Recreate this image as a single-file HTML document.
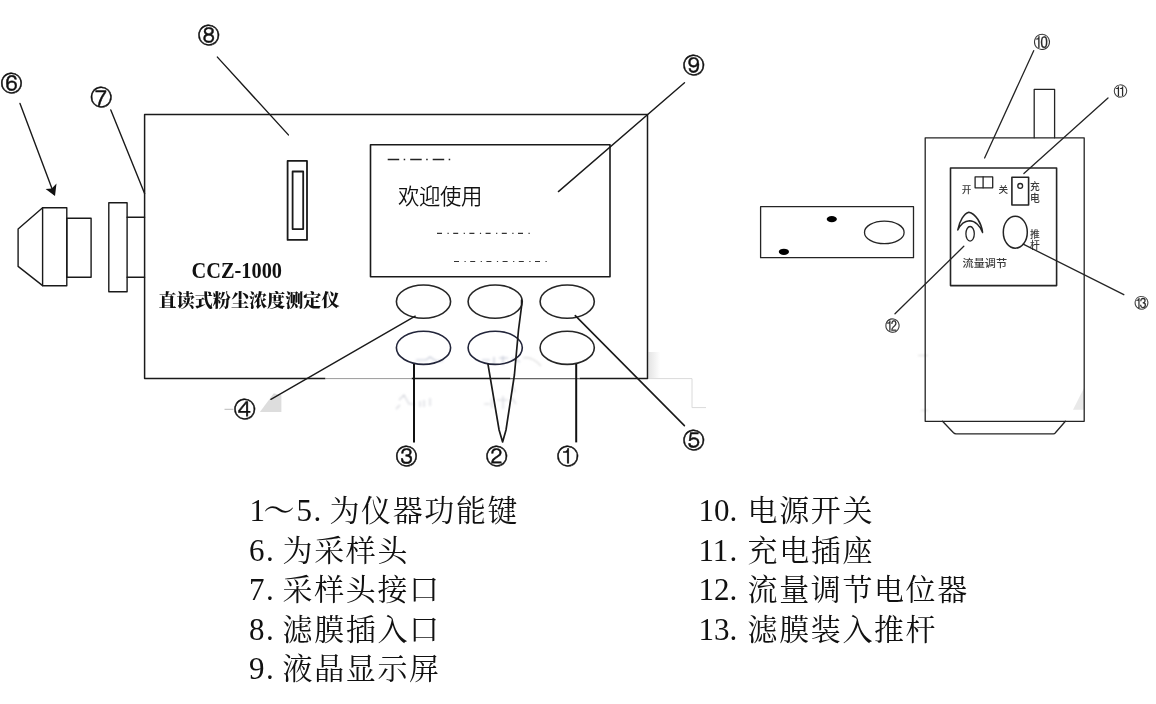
<!DOCTYPE html>
<html lang="zh-CN">
<head>
<meta charset="utf-8">
<title>CCZ-1000 直读式粉尘浓度测定仪</title>
<style>
html,body{margin:0;padding:0;background:#fff;}
body{width:1156px;height:704px;overflow:hidden;position:relative;}
svg{position:absolute;left:0;top:0;display:block;filter:blur(0.4px);}
.ln{stroke:#1a1a1a;stroke-width:1.4;fill:none;stroke-linecap:round;stroke-linejoin:round;}
#right-device .ln,#right-leaders .ln,#slide .ln{stroke-width:1.3;stroke:#242424;}
.key{stroke-width:1.6;stroke:#262626;}
.thin{stroke:#222;stroke-width:1.1;fill:none;}
.thick{stroke:#111;stroke-width:2;fill:none;}
.leg{font-family:"Liberation Serif","Noto Serif CJK SC",serif;font-size:31px;fill:#111;}
.zh{font-size:30px;letter-spacing:1.6px;}
.cir{font-family:"WenQuanYi Zen Hei","Noto Sans CJK SC",sans-serif;fill:#111;stroke:#111;stroke-width:0.45px;}
.cn{font-family:"Liberation Sans","Noto Sans CJK SC",sans-serif;fill:#111;}
.num{font-family:"Liberation Sans","Noto Sans CJK SC",sans-serif;font-size:11px;fill:#111;text-anchor:middle;}
</style>
</head>
<body>
<svg width="1156" height="704" viewBox="0 0 1156 704">
<rect x="0" y="0" width="1156" height="704" fill="#fff"/>

<!-- faint scan artefacts -->
<defs>
<filter id="soft" x="-20%" y="-20%" width="140%" height="140%"><feGaussianBlur stdDeviation="0.9"/></filter>
<linearGradient id="smudge" x1="0" y1="0" x2="1" y2="0"><stop offset="0" stop-color="#e4e4e4"/><stop offset="1" stop-color="#ffffff"/></linearGradient>
</defs>
<g id="artefacts">
<rect x="648.5" y="352" width="12" height="26" fill="url(#smudge)"/>
<path d="M648 378.6H692V407.6H706" stroke="#dadada" stroke-width="1" fill="none"/>
<polygon points="259.900,411.900 281.400,411.900 281.400,395.200 273.800,393.300" fill="#dddddd"/>
<path d="M224.500 409.300H233.500" stroke="#bbb" stroke-width="1"/>
<g filter="url(#soft)" stroke="#d4d6dc" stroke-width="1.2" fill="none">
<path d="M399 400L404 395L409 404H415M420 401V407M424 400V407M430 398V406M396 409L400 405"/>
<path d="M484 404H490M492 398V408M497 400H508M503 396V409M512 386L515 392M512 398L516 404"/>
<path d="M416 360H426L430 357L436 361H443" stroke="#c4c8d6"/>
<path d="M482 360H490M494 357V364M499 358H508M503 356V365M512 358L520 362" stroke="#c4c8d6"/>
<path d="M523 358Q532 356 541 366" stroke="#dcdcdc"/>
<path d="M918 355.500H928M921 410.400H928" stroke="#dcdcdc" stroke-width="1"/>
</g>
</g>

<!-- LEFT DEVICE -->
<g id="left-device">
<!-- sampling head 6 -->
<path class="ln" d="M42.6 207.8L18.1 229V266.4L42.6 285.6"/>
<rect class="ln" x="42.6" y="207.7" width="24.2" height="78"/>
<rect class="ln" x="66.8" y="218.2" width="24.3" height="59"/>
<!-- connector 7 -->
<rect class="ln" x="108.8" y="202.8" width="18.3" height="88.900"/>
<path class="ln" d="M127.1 217.3H144.6M127.1 277.2H144.6"/>
<!-- main body -->
<path class="ln" d="M325 378.6H144.6V114.5H647.5V378.6H580M412 378.6H510" style="stroke-width:1.5"/>
<path d="M325 378.6H412" stroke="#9a9a9a" stroke-width="1" fill="none"/><path d="M510 378.6H580" stroke="#666" stroke-width="1.2" fill="none"/>
<!-- filter slot 8 -->
<rect class="ln" x="287.6" y="160.9" width="19.4" height="79" style="stroke-width:1.8"/>
<rect class="ln" x="292.6" y="171.5" width="10.6" height="57.6" style="stroke-width:1.8"/>
<!-- LCD 9 -->
<rect class="ln" x="370.5" y="144.8" width="239.5" height="131.9" style="stroke-width:1.6"/>
<path d="M387.7 159.5H452" stroke="#222" stroke-width="1.5" stroke-dasharray="11.5 4.5 1.5 5"/>
<path d="M437 233.4H532" stroke="#333" stroke-width="1.2" stroke-dasharray="5 5.5 1.2 4.5"/>
<path d="M454 261.5H549" stroke="#333" stroke-width="1.2" stroke-dasharray="5 5.5 1.2 4.5"/>
<text class="cn" x="398" y="203.8" font-size="21.4" font-weight="350" fill="#111" textLength="84.5">欢迎使用</text>
<!-- labels -->
<text x="191.5" y="277.7" font-family="'Liberation Serif',serif" font-weight="bold" font-size="23.4" fill="#111" textLength="90.5" lengthAdjust="spacingAndGlyphs">CCZ-1000</text>
<text x="158.5" y="306.5" font-family="'Liberation Serif','Noto Serif CJK SC',serif" font-weight="900" font-size="18.1" fill="#111" textLength="181" lengthAdjust="spacingAndGlyphs">直读式粉尘浓度测定仪</text>
<!-- keys -->
<ellipse class="ln key" cx="423.5" cy="301.6" rx="27.1" ry="16.6"/>
<ellipse class="ln key" cx="495.2" cy="301.6" rx="27.1" ry="16.6"/>
<ellipse class="ln key" cx="567.2" cy="301.6" rx="27.1" ry="16.6"/>
<ellipse class="ln key" cx="423.5" cy="347.8" rx="27.1" ry="16.6" style="stroke:#22253a"/>
<ellipse class="ln key" cx="495.2" cy="347.8" rx="27.1" ry="16.6" style="stroke:#22253a"/>
<ellipse class="ln key" cx="567.2" cy="347.8" rx="27.1" ry="16.6"/>
</g>

<!-- LEFT leaders -->
<g id="left-leaders">
<path class="ln" d="M20 103.5L54 194"/>
<polygon points="55,196 45.600,189 51.800,188.600 56.500,183.600" fill="#111"/>
<path class="ln" d="M110.8 110L144.6 193.5"/>
<path class="ln" d="M217.4 57.1L288.4 134.9"/>
<path class="ln" d="M684.5 82.7L558.4 191.6"/>
<path class="ln" d="M270.9 399.3L415.2 316.2"/>
<path class="thick" d="M414 364V442.4"/>
<path class="thick" d="M576.2 364V442.4"/>
<path class="ln" d="M521.6 300V306L518.5 330L514.4 375L506 430L502.6 442L499.1 430L488 364.4" style="stroke-width:1.7"/>
<path class="ln" d="M575.3 315.6L684.4 425.6" style="stroke-width:1.6"/>
</g>

<!-- circled numbers left -->
<g id="left-nums" class="cir" font-size="22" text-anchor="middle">
<text x="11.4" y="90.7">⑥</text>
<text x="101.2" y="105.1">⑦</text>
<text x="208.8" y="43.4">⑧</text>
<text x="693.7" y="73.3">⑨</text>
<text x="244.8" y="417.1">④</text>
<text x="406.5" y="463.6">③</text>
<text x="496.8" y="463.6">②</text>
<text x="567.8" y="463.6">①</text>
<text x="693.8" y="448.3">⑤</text>
</g>

<!-- FILTER SLIDE -->
<g id="slide">
<rect class="ln" x="760.6" y="206.7" width="152.9" height="51"/>
<ellipse cx="831.8" cy="219.1" rx="5.1" ry="3.1" fill="#000"/>
<ellipse cx="783.9" cy="251.8" rx="5.1" ry="3.1" fill="#000"/>
<ellipse class="ln" cx="884.3" cy="232.4" rx="19.8" ry="11.3"/>
</g>

<!-- RIGHT DEVICE -->
<g id="right-device">
<polygon points="1084,388 1084,409.700 1073,409.700" fill="#e9e9e9"/>
<path class="ln" d="M1034.2 137.8V89.4H1054.6V137.8"/>
<rect class="ln" x="925.2" y="137.8" width="159" height="283.5"/>
<path class="ln" d="M942.5 421.3L953.5 432.8Q954.5 433.8 956 433.8H1053.4Q1054.6 433.8 1055.4 432.8L1065.4 421.3"/>
<rect class="ln" x="950.5" y="168" width="106.1" height="117.6" style="stroke-width:1.6"/>
<rect class="ln" x="975.1" y="176.9" width="17.6" height="10.9"/>
<path class="ln" d="M983.1 176.9V187.8"/>
<rect class="ln" x="1011.9" y="177.3" width="16.7" height="27.7" style="stroke-width:1.6"/>
<circle class="ln" cx="1020.2" cy="185.9" r="2.4"/>
<ellipse class="ln" cx="1015.3" cy="232.2" rx="12" ry="16" style="stroke-width:1.5"/>
<ellipse class="ln" cx="970.1" cy="233.8" rx="4.2" ry="7.3"/>
<path class="ln" d="M957.8 230C959.5 221 964 213.500 968.8 212.2C975.500 213.500 981.500 223 982.6 232.500C980.500 226 975 220.800 969.500 220.800C964 221 960 225.500 957.800 230Z" style="stroke-width:1.5"/>
<g class="cn" font-weight="500" style="fill:#3a3a3a">
<text x="961.8" y="192.9" font-size="9.6">开</text>
<text x="998.4" y="193.1" font-size="9.6">关</text>
<text x="1030" y="189.8" font-size="9.8">充</text>
<text x="1030" y="201.6" font-size="9.8">电</text>
<text x="1030" y="238.2" font-size="9.8">推</text>
<text x="1030" y="249.4" font-size="9.8">杆</text>
<text x="962.6" y="266.5" font-size="10" textLength="44.5" lengthAdjust="spacingAndGlyphs">流量调节</text>
</g>
</g>

<!-- RIGHT leaders -->
<g id="right-leaders">
<path class="ln" d="M1033.7 50.7L984.6 158"/>
<path class="ln" d="M1108 98L1023.9 173.5"/>
<path class="ln" d="M1023.2 244.1L1123.8 294.7"/>
<path class="ln" d="M963.8 246.3L895 313.8"/>
</g>
<g id="right-nums" class="cir" text-anchor="middle" style="stroke-width:0.12px;fill:#2a2a2a;stroke:#2a2a2a">
<text x="1042.1" y="47.6" font-size="17">⑩</text>
<text x="1120.5" y="96.2" font-size="14">⑪</text>
<text x="1141.6" y="307.6" font-size="14.5">⑬</text>
<text x="892.6" y="330.9" font-size="15">⑫</text>
</g>

<!-- LEGEND -->
<g id="legend" class="leg">
<text y="521"><tspan x="249.5">1</tspan><tspan x="263.5">～</tspan><tspan x="296.5">5</tspan><tspan x="313.5">.</tspan><tspan class="zh" x="282.6" dx="46.9">为仪器功能键</tspan></text>
<text y="560.6"><tspan x="249">6</tspan><tspan x="266">.</tspan><tspan class="zh" x="282.6">为采样头</tspan></text>
<text y="600.2"><tspan x="249">7</tspan><tspan x="266">.</tspan><tspan class="zh" x="282.6">采样头接口</tspan></text>
<text y="639.8"><tspan x="249">8</tspan><tspan x="266">.</tspan><tspan class="zh" x="282.6">滤膜插入口</tspan></text>
<text y="679.4"><tspan x="249">9</tspan><tspan x="266">.</tspan><tspan class="zh" x="282.6">液晶显示屏</tspan></text>
<text y="521"><tspan x="698.5">10</tspan><tspan x="729.4">.</tspan><tspan class="zh" x="747.6">电源开关</tspan></text>
<text y="560.6"><tspan x="698.5">11</tspan><tspan x="729.4">.</tspan><tspan class="zh" x="747.6">充电插座</tspan></text>
<text y="600.2"><tspan x="698.5">12</tspan><tspan x="729.4">.</tspan><tspan class="zh" x="747.6">流量调节电位器</tspan></text>
<text y="639.8"><tspan x="698.5">13</tspan><tspan x="729.4">.</tspan><tspan class="zh" x="747.6">滤膜装入推杆</tspan></text>
</g>
</svg>
</body>
</html>
